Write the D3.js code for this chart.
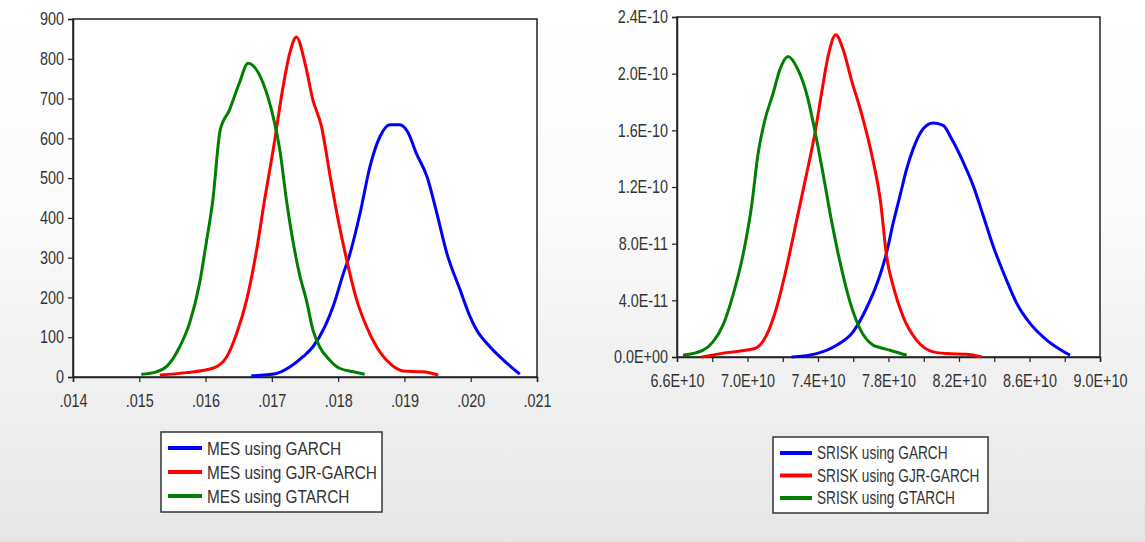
<!DOCTYPE html>
<html>
<head>
<meta charset="utf-8">
<script src="https://cdn.jsdelivr.net/npm/d3@7"></script>
<style>
  body { margin: 0; }
  svg { display: block; }
  text { font-family: "Liberation Sans", Arial, sans-serif; fill: #333; }
</style>
</head>
<body>
<svg id="chart" width="1145" height="542"></svg>
<script>
// MES density curves [value, density]
const mesGarch = [[.01669,3],[.01707,9],[.01727,25],[.01747,51],[.01762,76],[.01778,120],[.01795,190],[.01808,261],[.01815,294],[.01833,411],[.01848,529],[.01863,604],[.01878,634],[.01893,634],[.01906,613],[.01918,562],[.01934,504],[.01949,411],[.01964,311],[.01984,219],[.01999,152],[.02009,118],[.02029,76],[.02049,43],[.02074,7]];
const mesGjr = [[.01531,5],[.01571,11],[.01611,22],[.01632,51],[.01647,110],[.01662,194],[.01677,319],[.01689,445],[.01702,571],[.01717,730],[.01727,814],[.01737,855],[.0175,789],[.01762,696],[.01775,629],[.01788,504],[.018,395],[.01813,294],[.01828,194],[.01843,126],[.01858,76],[.01878,34],[.01898,15],[.01928,13],[.01951,5]];
const mesGtarch = [[.01503,7],[.01526,13],[.01541,26],[.01561,76],[.01576,136],[.01591,236],[.01601,337],[.01611,445],[.01622,620],[.01636,671],[.01651,739],[.01664,789],[.01687,738],[.01702,654],[.01712,571],[.01722,445],[.01742,256],[.01752,194],[.01762,118],[.01772,76],[.01787,43],[.01802,22],[.01823,13],[.0184,7]];

// SRISK density curves [value, density]
const sriskGarch = [[7.25e10,0],[7.392e10,.024e-10],[7.505e10,.083e-10],[7.599e10,.178e-10],[7.675e10,.344e-10],[7.751e10,.575e-10],[7.789e10,.735e-10],[7.827e10,.948e-10],[7.865e10,1.137e-10],[7.903e10,1.327e-10],[7.94e10,1.469e-10],[7.997e10,1.611e-10],[8.054e10,1.652e-10],[8.11e10,1.635e-10],[8.158e10,1.54e-10],[8.224e10,1.375e-10],[8.281e10,1.208e-10],[8.338e10,.995e-10],[8.394e10,.782e-10],[8.461e10,.569e-10],[8.527e10,.38e-10],[8.603e10,.237e-10],[8.698e10,.119e-10],[8.83e10,.012e-10]];
const sriskGjr = [[6.739e10,0],[6.881e10,.031e-10],[7.041e10,.06e-10],[7.108e10,.154e-10],[7.164e10,.344e-10],[7.221e10,.628e-10],[7.278e10,.959e-10],[7.335e10,1.291e-10],[7.382e10,1.576e-10],[7.42e10,1.86e-10],[7.457e10,2.121e-10],[7.501e10,2.274e-10],[7.543e10,2.168e-10],[7.59e10,1.955e-10],[7.647e10,1.718e-10],[7.704e10,1.434e-10],[7.756e10,1.085e-10],[7.789e10,.711e-10],[7.827e10,.498e-10],[7.883e10,.284e-10],[7.959e10,.119e-10],[8.054e10,.036e-10],[8.13e10,.024e-10],[8.243e10,.019e-10],[8.329e10,0]];
const sriskGtarch = [[6.634e10,.012e-10],[6.748e10,.048e-10],[6.804e10,.107e-10],[6.861e10,.225e-10],[6.918e10,.439e-10],[6.975e10,.723e-10],[7.022e10,1.055e-10],[7.06e10,1.434e-10],[7.098e10,1.67e-10],[7.145e10,1.86e-10],[7.183e10,2.026e-10],[7.23e10,2.121e-10],[7.287e10,2.026e-10],[7.335e10,1.86e-10],[7.382e10,1.599e-10],[7.429e10,1.291e-10],[7.477e10,.959e-10],[7.524e10,.675e-10],[7.581e10,.391e-10],[7.637e10,.202e-10],[7.713e10,.083e-10],[7.751e10,.067e-10],[7.808e10,.048e-10],[7.903e10,.012e-10]];

// ticks
const mesXTicks = [.014,.015,.016,.017,.018,.019,.020,.021];
const mesXLabels = [".014",".015",".016",".017",".018",".019",".020",".021"];
const mesYTicks = [0,100,200,300,400,500,600,700,800,900];
const sriskXTicks = [6.6e10,6.8e10,7.0e10,7.2e10,7.4e10,7.6e10,7.8e10,8.0e10,8.2e10,8.4e10,8.6e10,8.8e10,9.0e10];
const sriskXLabels = ["6.6E+10","","7.0E+10","","7.4E+10","","7.8E+10","","8.2E+10","","8.6E+10","","9.0E+10"];
const sriskYTicks = [0,.4e-10,.8e-10,1.2e-10,1.6e-10,2.0e-10,2.4e-10];
const sriskYLabels = ["0.0E+00","4.0E-11","8.0E-11","1.2E-10","1.6E-10","2.0E-10","2.4E-10"];

const seriesColors = ["#0000ff", "#ff0000", "#008000"];
const mesNames = ["MES using GARCH", "MES using GJR-GARCH", "MES using GTARCH"];
const sriskNames = ["SRISK using GARCH", "SRISK using GJR-GARCH", "SRISK using GTARCH"];

const svg = d3.select("#chart");
const squeeze = 0.8; // narrow look of the original font

// background gradient
const defs = svg.append("defs");
const grad = defs.append("linearGradient").attr("id", "bg").attr("x1", 0).attr("y1", 0).attr("x2", 0).attr("y2", 1);
grad.append("stop").attr("offset", "0%").attr("stop-color", "#ffffff");
grad.append("stop").attr("offset", "40%").attr("stop-color", "#fbfbfb");
grad.append("stop").attr("offset", "100%").attr("stop-color", "#e6e6e6");
svg.append("rect").attr("width", 1145).attr("height", 542).attr("fill", "url(#bg)");

function drawPanel(opt) {
    const x = d3.scaleLinear().domain(opt.xDomain).range([opt.left, opt.right]);
    const y = d3.scaleLinear().domain(opt.yDomain).range([opt.bottom, opt.top]);

    svg.append("rect")
        .attr("x", opt.left).attr("y", opt.top)
        .attr("width", opt.right - opt.left).attr("height", opt.bottom - opt.top)
        .attr("fill", "#fff").attr("stroke", "#222").attr("stroke-width", 1.5);

    const xAxis = svg.append("g")
        .attr("transform", `translate(0,${opt.bottom})`)
        .call(d3.axisBottom(x).tickValues(opt.xTicks).tickSize(5).tickFormat((d, i) => opt.xLabels[i]));
    const yAxis = svg.append("g")
        .attr("transform", `translate(${opt.left},0)`)
        .call(d3.axisLeft(y).tickValues(opt.yTicks).tickSize(5).tickFormat((d, i) => opt.yLabels[i]));

    [xAxis, yAxis].forEach(a => {
        a.select(".domain").attr("stroke", "#222").attr("stroke-width", 1.5);
        a.selectAll(".tick line").attr("stroke", "#222").attr("stroke-width", 1.2);
        a.selectAll(".tick text")
            .style("font-family", "'Liberation Sans', Arial, sans-serif")
            .style("font-size", "18px")
            .attr("fill", "#333")
            .attr("transform", `scale(${squeeze},1)`);
    });
    xAxis.selectAll(".tick text").attr("y", 17);
    yAxis.selectAll(".tick text").attr("x", -9 / squeeze);

    const line = d3.line()
        .x(d => x(d[0]))
        .y(d => y(d[1]))
        .curve(d3.curveMonotoneX);

    opt.series.forEach((s, i) => {
        svg.append("path")
            .datum(s)
            .attr("fill", "none")
            .attr("stroke", seriesColors[i])
            .attr("stroke-width", 3)
            .attr("stroke-linejoin", "round")
            .attr("d", line);
    });

    // legend
    const lg = svg.append("g").attr("transform", `translate(${opt.legend.x},${opt.legend.y})`);
    lg.append("rect")
        .attr("width", opt.legend.w).attr("height", opt.legend.h)
        .attr("fill", "#fff").attr("stroke", "#333").attr("stroke-width", 1.5);
    opt.names.forEach((name, i) => {
        const cy = opt.legend.row0 + i * opt.legend.step;
        lg.append("line")
            .attr("x1", 7).attr("x2", 7 + opt.legend.lineW)
            .attr("y1", cy).attr("y2", cy)
            .attr("stroke", seriesColors[i]).attr("stroke-width", 4);
        lg.append("text")
            .attr("x", (12 + opt.legend.lineW) / opt.legend.sx)
            .attr("y", cy)
            .attr("dy", "0.35em")
            .attr("transform", `scale(${opt.legend.sx},1)`)
            .style("font-size", opt.legend.fontSize + "px")
            .text(name);
    });
}

drawPanel({
    left: 73, right: 537, top: 19, bottom: 377,
    xDomain: [.014, .021], yDomain: [0, 900],
    xTicks: mesXTicks, xLabels: mesXLabels,
    yTicks: mesYTicks, yLabels: mesYTicks.map(String),
    series: [mesGarch, mesGjr, mesGtarch],
    names: mesNames,
    legend: { x: 161, y: 432, w: 221, h: 80, row0: 16, step: 24, lineW: 34, fontSize: 19, sx: 0.81 }
});

drawPanel({
    left: 677, right: 1100, top: 17, bottom: 357,
    xDomain: [6.6e10, 9.0e10], yDomain: [0, 2.4e-10],
    xTicks: sriskXTicks, xLabels: sriskXLabels,
    yTicks: sriskYTicks, yLabels: sriskYLabels,
    series: [sriskGarch, sriskGjr, sriskGtarch],
    names: sriskNames,
    legend: { x: 773, y: 437, w: 215, h: 76, row0: 16, step: 22.5, lineW: 32, fontSize: 18, sx: 0.76 }
});
</script>
</body>
</html>
